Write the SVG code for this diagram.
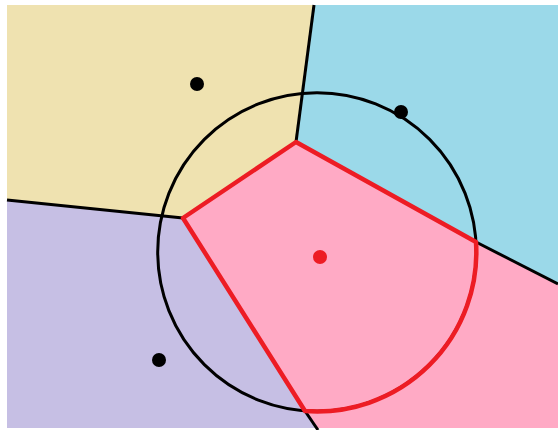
<svg xmlns="http://www.w3.org/2000/svg" width="558" height="430" viewBox="0 0 558 430">
<style>
.edge{fill:none;stroke:#000;stroke-width:3;stroke-linejoin:round}
.red{fill:none;stroke:#ED1C24;stroke-width:4.5;stroke-linejoin:round;stroke-linecap:round}
.site{fill:#000}
</style>
<rect width="558" height="430" fill="#fff"/>
<g id="cell-yellow"><polygon points="7,5 314,5 296,142 183,218 7,200" fill="#EFE2B0"/></g>
<g id="cell-blue"><polygon points="314,5 558,5 558,284 476,242 296,142" fill="#9BD9E9"/></g>
<g id="cell-purple"><polygon points="7,200 183,218 305,411 317,428 7,428" fill="#C6BFE4"/></g>
<g id="cell-pink"><polygon points="296,142 476,242 558,284 558,428 317,428 305,411 183,218" fill="#FFAAC5"/></g>
<g id="connectors">
<circle class="edge" cx="317" cy="252" r="159.3"/>
<polyline class="edge" points="314,5 296,142"/>
<polyline class="edge" points="7,200 183,218"/>
<polyline class="edge" points="476,242 558,284"/>
<polyline class="edge" points="305,411 318,430"/>
<path class="red" d="M183,218 L296,142 L476,242 A159.3,159.3 0 0 1 305,411 Z"/>
</g>
<g id="site-1"><circle class="site" cx="197" cy="84" r="7"/></g>
<g id="site-2"><circle class="site" cx="401" cy="112" r="7"/></g>
<g id="site-3"><circle class="site" cx="159" cy="360" r="7"/></g>
<g id="site-center"><circle cx="320" cy="257" r="7" fill="#ED1C24"/></g>
</svg>
